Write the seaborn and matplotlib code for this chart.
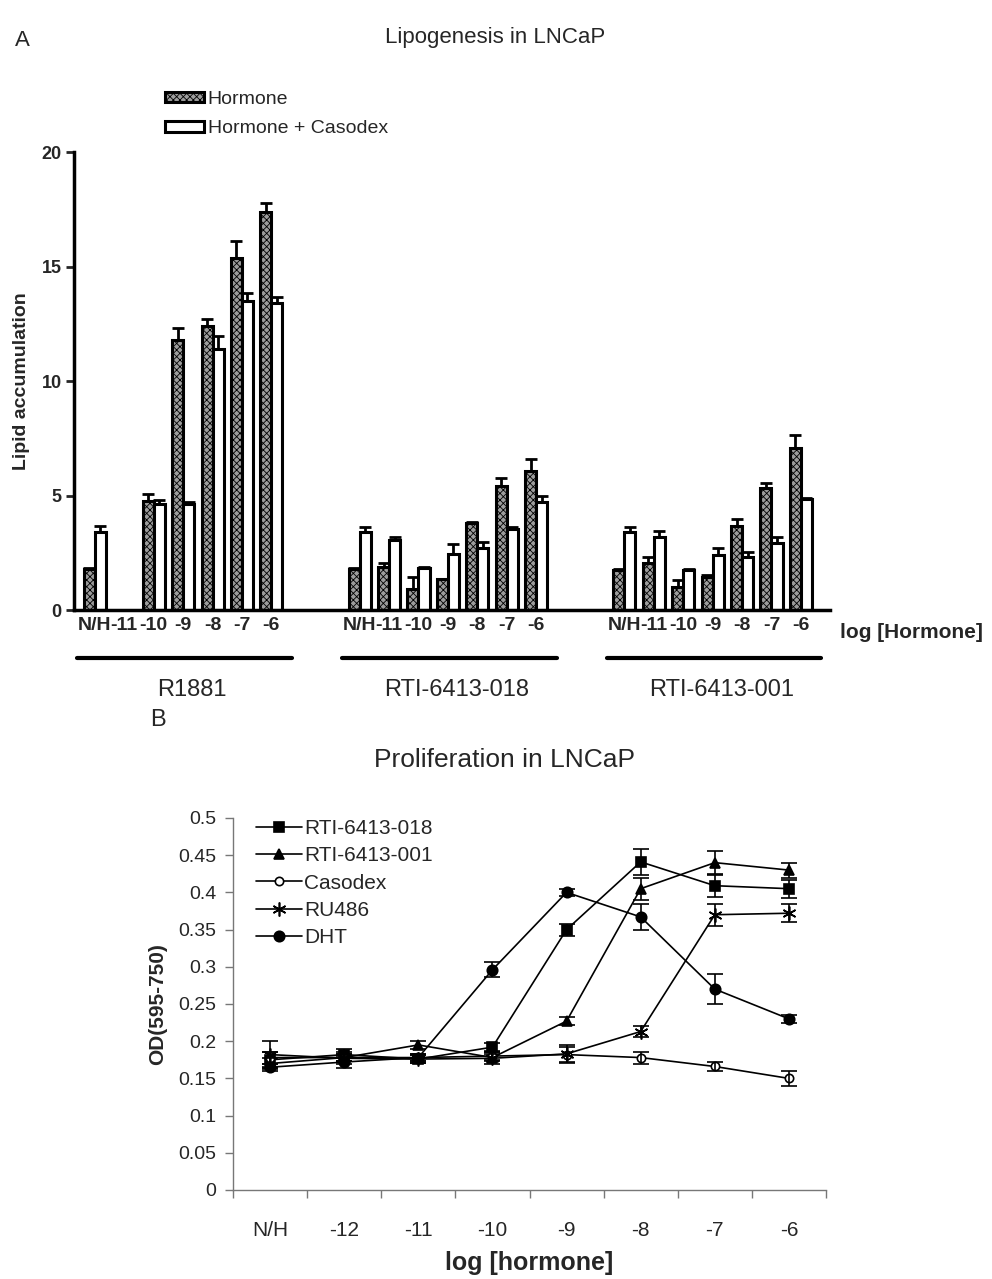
import numpy as np
import pandas as pd
import matplotlib
matplotlib.use('Agg')
import matplotlib.pyplot as plt
import matplotlib.transforms as mtransforms
from matplotlib.patches import Patch
from matplotlib.lines import Line2D
import seaborn as sns

sns.set_style('white')
plt.rcParams['font.family'] = ['Liberation Sans', 'DejaVu Sans']
plt.rcParams['hatch.linewidth'] = 0.6
narrow = ['Liberation Sans Narrow', 'Liberation Sans', 'DejaVu Sans']

# ---------------- Panel A data ----------------
doses_a = ['N/H', '-11', '-10', '-9', '-8', '-7', '-6']
groups = ['R1881', 'RTI-6413-018', 'RTI-6413-001']
treatments = ['Hormone', 'Hormone + Casodex']

r1881_hormone = [1.8, np.nan, 4.75, 11.8, 12.4, 15.4, 17.4]
r1881_casodex = [3.4, np.nan, 4.65, 4.65, 11.4, 13.5, 13.4]
r1881_h_err = [0.03, np.nan, 0.3, 0.5, 0.3, 0.7, 0.4]
r1881_c_err = [0.28, np.nan, 0.15, 0.07, 0.55, 0.35, 0.27]

rti018_hormone = [1.8, 1.86, 0.92, 1.34, 3.81, 5.44, 6.07]
rti018_casodex = [3.39, 3.05, 1.82, 2.47, 2.72, 3.56, 4.73]
rti018_h_err = [0.03, 0.18, 0.53, 0.03, 0.03, 0.31, 0.55]
rti018_c_err = [0.25, 0.15, 0.07, 0.4, 0.26, 0.08, 0.26]

rti001_hormone = [1.77, 2.05, 1.02, 1.43, 3.67, 5.32, 7.08]
rti001_casodex = [3.39, 3.2, 1.75, 2.4, 2.33, 2.94, 4.84]
rti001_h_err = [0.03, 0.25, 0.29, 0.1, 0.29, 0.21, 0.56]
rti001_c_err = [0.25, 0.25, 0.03, 0.29, 0.19, 0.26, 0.05]

# ---------------- Panel B data ----------------
doses_b = ['N/H', '-12', '-11', '-10', '-9', '-8', '-7', '-6']
rti018_od = [0.175, 0.182, 0.176, 0.192, 0.350, 0.441, 0.409, 0.405]
rti001_od = [0.170, 0.178, 0.195, 0.178, 0.227, 0.405, 0.440, 0.430]
casodex_od = [0.178, 0.178, 0.178, 0.180, 0.182, 0.178, 0.166, 0.150]
ru486_od = [0.182, 0.177, 0.176, 0.177, 0.183, 0.213, 0.370, 0.372]
dht_od = [0.165, 0.172, 0.178, 0.296, 0.400, 0.367, 0.270, 0.230]

rti018_od_err = [0.010, 0.008, 0.005, 0.005, 0.008, 0.018, 0.015, 0.012]
rti001_od_err = [0.008, 0.005, 0.005, 0.005, 0.005, 0.015, 0.015, 0.010]
casodex_od_err = [0.008, 0.005, 0.005, 0.005, 0.010, 0.008, 0.006, 0.010]
ru486_od_err = [0.018, 0.008, 0.005, 0.008, 0.012, 0.008, 0.015, 0.012]
dht_od_err = [0.005, 0.008, 0.005, 0.010, 0.005, 0.018, 0.020, 0.005]

# ---------------- build panel A table ----------------
vals_a = {
    'R1881': (r1881_hormone, r1881_casodex, r1881_h_err, r1881_c_err),
    'RTI-6413-018': (rti018_hormone, rti018_casodex, rti018_h_err, rti018_c_err),
    'RTI-6413-001': (rti001_hormone, rti001_casodex, rti001_h_err, rti001_c_err),
}
rows = []
order = []
for g_i, g in enumerate(groups):
    h, c, he, ce = vals_a[g]
    for d_i, d in enumerate(doses_a):
        slot = f'{g}|{d}'
        order.append(slot)
        rows.append((slot, 'Hormone', h[d_i], he[d_i]))
        rows.append((slot, 'Hormone + Casodex', c[d_i], ce[d_i]))
    if g_i < len(groups) - 1:
        order += [f'gap{g_i}a', f'gap{g_i}b']
df_a = pd.DataFrame(rows, columns=['Slot', 'Treatment', 'Lipid', 'Err']).dropna()

fig = plt.figure(figsize=(9.92, 12.79), dpi=100)

# ---------------- Panel A ----------------
ax1 = fig.add_axes([0.0746, 0.523, 0.7624, 0.358])
bar_width = 0.75
sns.barplot(data=df_a, x='Slot', y='Lipid', hue='Treatment', order=order,
            hue_order=treatments, palette={'Hormone': '#9c9c9c', 'Hormone + Casodex': 'white'},
            width=bar_width, errorbar=None, edgecolor='black', linewidth=2.2,
            legend=False, ax=ax1)
for p in ax1.containers[0]:
    p.set_hatch('xxxxx')

for k, t in enumerate(treatments):
    sub = df_a[df_a['Treatment'] == t]
    xs = [order.index(s) + (k - 0.5) * bar_width / 2 for s in sub['Slot']]
    ax1.errorbar(xs, sub['Lipid'], yerr=[np.zeros(len(sub)), sub['Err']], fmt='none',
                 ecolor='black', elinewidth=2, capsize=4, capthick=2, zorder=5)

ax1.set_ylim(0, 20)
ax1.set_xlim(-0.71, 25.0)
ax1.set_yticks([0, 5, 10, 15, 20])
ax1.set_yticklabels(['0', '5', '10', '15', '20'], fontweight='bold', fontsize=13, family=narrow)
ax1.set_xticks(range(len(order)))
ax1.set_xticklabels([s.split('|')[1] if '|' in s else '' for s in order],
                    fontweight='bold', fontsize=14, family=narrow)
ax1.tick_params(axis='x', length=0, pad=5)
ax1.tick_params(axis='y', length=6, width=2, direction='out', left=True, pad=3)
ax1.set_xlabel('')
ax1.set_ylabel('Lipid accumulation', fontweight='bold', fontsize=14, labelpad=8, family=narrow)
for s in ['top', 'right']:
    ax1.spines[s].set_visible(False)
for s in ['left', 'bottom']:
    ax1.spines[s].set_linewidth(2.5)
    ax1.spines[s].set_color('black')

trans = mtransforms.blended_transform_factory(ax1.transData, ax1.transAxes)
for g_i, g in enumerate(groups):
    x0 = g_i * 9
    ax1.plot([x0 - 0.6, x0 + 6.7], [-0.105, -0.105], color='black', lw=3,
             transform=trans, clip_on=False)
    ax1.text(x0 + 3.3, -0.175, g, transform=trans, ha='center', va='center', fontsize=17)

fig.text(840 / 992, 1 - 633 / 1279, 'log [Hormone]', ha='left', va='center',
         fontweight='bold', fontsize=15, family=narrow)

leg_a = [Patch(facecolor='#9c9c9c', edgecolor='black', hatch='xxxxx', linewidth=2.2),
         Patch(facecolor='white', edgecolor='black', linewidth=2.2)]
fig.legend(leg_a, treatments, loc='upper left', bbox_to_anchor=(155 / 992, 1 - 81 / 1279),
           frameon=False, fontsize=14, handlelength=2.0, handleheight=0.45,
           handletextpad=0.2, labelspacing=0.65, borderpad=0)

fig.text(495 / 992, 1 - 38 / 1279, 'Lipogenesis in LNCaP', ha='center', va='center', fontsize=16)
fig.text(15 / 992, 1 - 40 / 1279, 'A', ha='left', va='center', fontsize=16)

# ---------------- Panel B ----------------
ax2 = fig.add_axes([233 / 992, 1 - 1190 / 1279, 593 / 992, 372 / 1279])
series = [
    ('RTI-6413-018', rti018_od, rti018_od_err, 's', 'black'),
    ('RTI-6413-001', rti001_od, rti001_od_err, '^', 'black'),
    ('Casodex', casodex_od, casodex_od_err, 'o', 'white'),
    ('RU486', ru486_od, ru486_od_err, (6, 2, 0), 'black'),
    ('DHT', dht_od, dht_od_err, 'o', 'black'),
]
pos_b = np.arange(len(doses_b))
handles_b = []
for name, v, e, m, fc in series:
    ms = 6 if fc == 'white' else 7.5
    if m == (6, 2, 0):
        ms = 10
    sns.lineplot(x=pos_b, y=v, color='black', lw=1.2, marker=m, markersize=ms,
                 markerfacecolor=fc, markeredgecolor='black', markeredgewidth=1.2,
                 ax=ax2, legend=False)
    ax2.errorbar(pos_b, v, yerr=e, fmt='none', ecolor='black', elinewidth=1.2,
                 capsize=6, capthick=1.2, zorder=4)
    handles_b.append(Line2D([], [], color='black', lw=1.2, marker=m, markersize=ms,
                            markerfacecolor=fc, markeredgecolor='black', markeredgewidth=1.2))

ax2.set_ylim(0, 0.5)
ax2.set_xlim(-0.5, 7.5)
yt = np.round(np.arange(0, 0.501, 0.05), 2)
ax2.set_yticks(yt)
ax2.set_yticklabels(['0' if y == 0 else f'{y:g}' for y in yt], fontsize=14)
ax2.set_xticks(np.arange(-0.5, 8, 1))
ax2.set_xticklabels([])
ax2.set_xticks(pos_b, minor=True)
ax2.set_xticklabels(doses_b, minor=True, fontsize=15)
ax2.tick_params(axis='x', which='major', length=6, width=1, color='#777777', direction='out', bottom=True)
ax2.tick_params(axis='x', which='minor', length=0, pad=22)
ax2.tick_params(axis='y', length=6, width=1, color='#777777', direction='out', left=True, pad=6)
for s in ['top', 'right']:
    ax2.spines[s].set_visible(False)
for s in ['left', 'bottom']:
    ax2.spines[s].set_color('#777777')
    ax2.spines[s].set_linewidth(1)
ax2.set_xlabel('log [hormone]', fontweight='bold', fontsize=18, labelpad=8)
ax2.set_ylabel('OD(595-750)', fontweight='bold', fontsize=15, labelpad=8)
ax2.legend(handles_b, [s[0] for s in series], loc='upper left',
           bbox_to_anchor=(0.0215, 1.025), frameon=False, fontsize=15,
           handlelength=2.2, handletextpad=0.1, labelspacing=0.4, borderpad=0)

fig.text(504 / 992, 1 - 760 / 1279, 'Proliferation in LNCaP', ha='center', va='center', fontsize=19)
fig.text(150 / 992, 1 - 720 / 1279, 'B', ha='left', va='center', fontsize=17)

fig.savefig('out.png', dpi=100)
